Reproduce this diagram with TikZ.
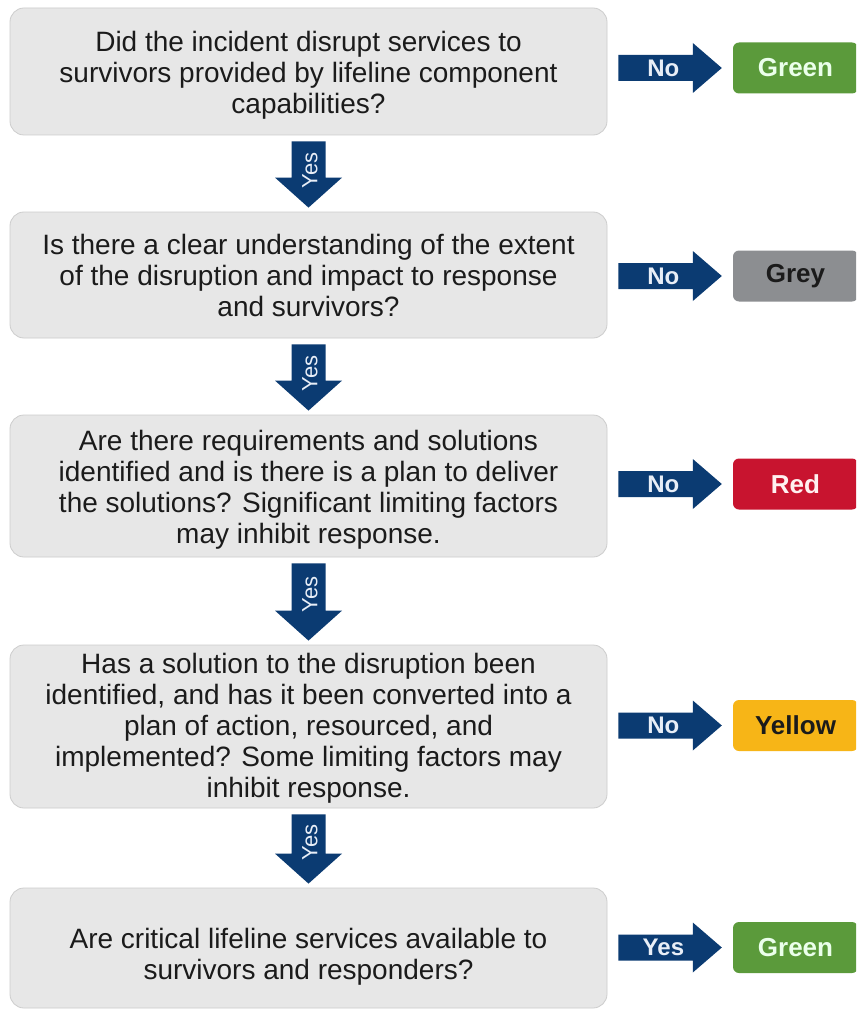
\documentclass[tikz,border=0pt]{standalone}
\usepackage{fontspec}
\setmainfont{Liberation Sans}
\usetikzlibrary{calc}

\definecolor{navy}{HTML}{0B3B72}
\definecolor{qfill}{HTML}{E7E7E7}
\definecolor{qedge}{HTML}{CDCDCD}
\definecolor{qtext}{HTML}{1B1B1B}
\definecolor{resgreen}{HTML}{5B9A3B}
\definecolor{resgrey}{HTML}{8C8E91}
\definecolor{resred}{HTML}{C8142F}
\definecolor{resyellow}{HTML}{F7B517}
\definecolor{arrowtext}{HTML}{E8EEF7}

\begin{document}
\begin{tikzpicture}[x=1pt,y=-1pt,
  qbox/.style={rectangle, rounded corners=14pt, fill=qfill, draw=qedge, line width=0.8pt,
    minimum width=597pt, inner sep=0pt},
  qlabel/.style={inner sep=0pt, align=center, text=qtext, font=\fontsize{28}{31}\selectfont},
  resbox/.style={rectangle, rounded corners=6pt, minimum width=125pt, minimum height=51pt,
    inner sep=0pt, font=\bfseries\fontsize{26}{26}\selectfont},
  nolbl/.style={inner sep=0pt, text=arrowtext, font=\bfseries\fontsize{24}{24}\selectfont},
  yeslbl/.style={inner sep=0pt, rotate=90, text=arrowtext, font=\fontsize{22}{22}\selectfont},
  downblk/.style={to path={let \p1=(\tikztostart), \p2=(\tikztotarget) in
    (\x1-17pt,\y1-6pt) -- (\x1+17pt,\y1-6pt) -- (\x1+17pt,\y2+34pt) --
    (\x1+33.5pt,\y2+34pt) -- (\x1,\y2+4pt) -- (\x1-33.5pt,\y2+34pt) --
    (\x1-17pt,\y2+34pt) -- cycle}},
  rightblk/.style={to path={let \p1=(\tikztostart), \p2=(\tikztotarget) in
    (\x1+11pt,\y2+13pt) -- (\x2-40pt,\y2+13pt) -- (\x2-40pt,\y2+25pt) --
    (\x2-11pt,\y2) -- (\x2-40pt,\y2-25pt) -- (\x2-40pt,\y2-13pt) --
    (\x1+11pt,\y2-13pt) -- cycle}}
]
\useasboundingbox (0,0) rectangle (856,1011);
\clip (0,0) rectangle (856,1011);
\fill[white] (0,0) rectangle (856,1011);

% question boxes
\node[qbox, minimum height=127pt] (q1) at (308.5,71.5) {};
\node[qbox, minimum height=126pt] (q2) at (308.5,275) {};
\node[qbox, minimum height=142pt] (q3) at (308.5,486) {};
\node[qbox, minimum height=163pt] (q4) at (308.5,726.5) {};
\node[qbox, minimum height=120pt] (q5) at (308.5,948) {};

% question texts
\node[qlabel] (q1t) at ($(q1.center)+(0,4)$)
  {Did the incident disrupt services to\\survivors provided by lifeline component\\capabilities?};
\node[qlabel] (q2t) at ($(q2.center)+(0,0)$)
  {Is there a clear understanding of the extent\\of the disruption and impact to response\\and survivors?};
\node[qlabel] (q3t) at ($(q3.center)+(0,4)$)
  {Are there requirements and solutions\\identified and is there is a plan to deliver\\the solutions? Significant limiting factors\\may inhibit response.};
\node[qlabel] (q4t) at ($(q4.center)+(0,2)$)
  {Has a solution to the disruption been\\identified, and has it been converted into a\\plan of action, resourced, and\\implemented? Some limiting factors may\\inhibit response.};
\node[qlabel] (q5t) at ($(q5.center)+(0,9)$)
  {Are critical lifeline services available to\\survivors and responders?};

% outcome boxes
\node[resbox, fill=resgreen, text=green!8!white] (r1) at (795.5,68) {Green};
\node[resbox, fill=resgrey, text=qtext] (r2) at (795.5,276) {Grey};
\node[resbox, fill=resred, text=red!6!white] (r3) at (795.5,484) {Red};
\node[resbox, fill=resyellow, text=qtext] (r4) at (795.5,725.5) {Yellow};
\node[resbox, fill=resgreen, text=green!8!white] (r5) at (795.5,947.5) {Green};

% Yes arrows between the questions
\fill[navy] (q1.south) to[downblk] (q2.north);
\fill[navy] (q2.south) to[downblk] (q3.north);
\fill[navy] (q3.south) to[downblk] (q4.north);
\fill[navy] (q4.south) to[downblk] (q5.north);
\node[yeslbl] (y1) at ($(q1.south)+(1.5,35)$) {Yes};
\node[yeslbl] (y2) at ($(q2.south)+(1.5,35)$) {Yes};
\node[yeslbl] (y3) at ($(q3.south)+(1.5,37)$) {Yes};
\node[yeslbl] (y4) at ($(q4.south)+(1.5,34)$) {Yes};

% arrows to the outcomes
\fill[navy] (q1.east) to[rightblk] (r1.west);
\fill[navy] (q2.east) to[rightblk] (r2.west);
\fill[navy] (q3.east) to[rightblk] (r3.west);
\fill[navy] (q4.east) to[rightblk] (r4.west);
\fill[navy] (q5.east) to[rightblk] (r5.west);
\node[nolbl] (n1) at ($(q1.east |- r1.west)+(56,0)$) {No};
\node[nolbl] (n2) at ($(q2.east |- r2.west)+(56,0)$) {No};
\node[nolbl] (n3) at ($(q3.east |- r3.west)+(56,0)$) {No};
\node[nolbl] (n4) at ($(q4.east |- r4.west)+(56,0)$) {No};
\node[nolbl] (n5) at ($(q5.east |- r5.west)+(56,0)$) {Yes};
\end{tikzpicture}
\end{document}
